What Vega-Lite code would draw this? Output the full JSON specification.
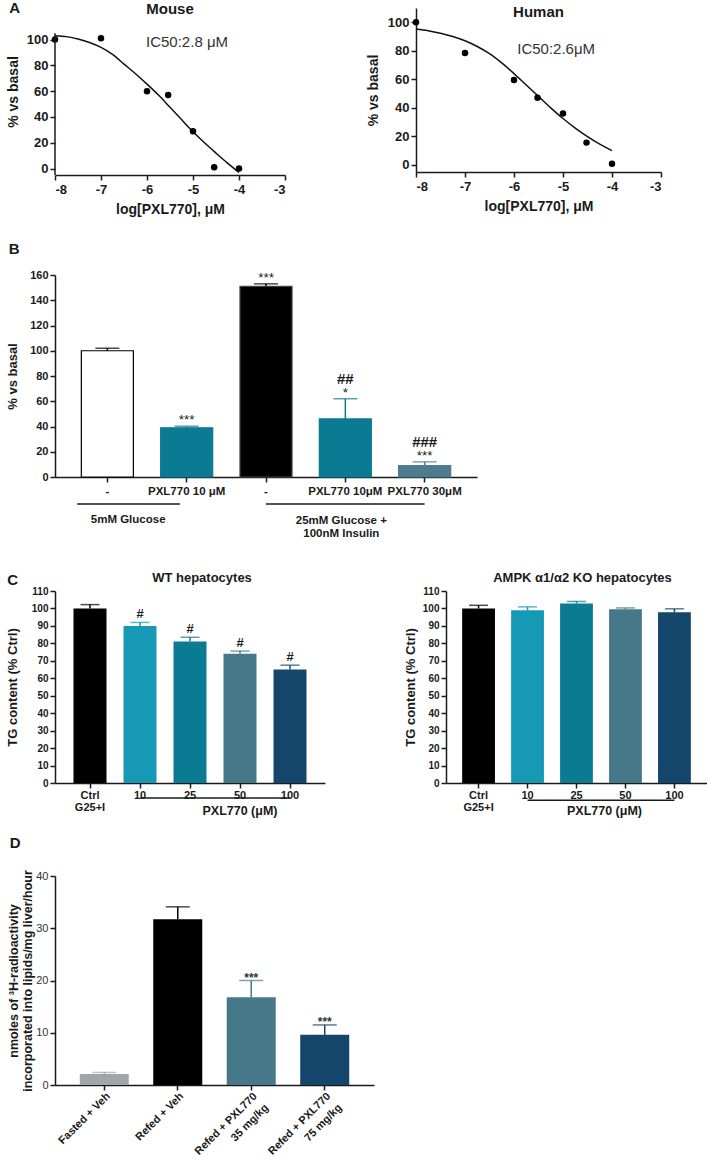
{
  "$schema": "https://vega.github.io/schema/vega-lite/v6.json",
  "background": "white",
  "padding": {"left": 6, "top": 1, "right": 0, "bottom": 0},
  "config": {
    "font": "Liberation Sans",
    "view": {"stroke": null},
    "axis": {
      "labelFont": "Liberation Sans", "titleFont": "Liberation Sans",
      "labelFontWeight": "bold", "titleFontWeight": "bold",
      "labelColor": "#1a1a1a", "titleColor": "#1a1a1a",
      "domainColor": "#1a1a1a", "tickColor": "#1a1a1a",
      "domainWidth": 1.5, "tickWidth": 1.5, "tickSize": 5,
      "grid": false, "labelPadding": 2, "labelOverlap": false
    },
    "title": {"font": "Liberation Sans", "fontWeight": "bold", "color": "#1a1a1a"},
    "text": {"font": "Liberation Sans"}
  },
  "resolve": {"scale": {"color": "independent", "fill": "independent", "stroke": "independent"}},
  "spacing": 32,
  "vconcat": [
    {
      "spacing": 25,
      "resolve": {"scale": {"color": "independent", "fill": "independent", "stroke": "independent"}},
      "vconcat": [
        {
          "title": {"text": "A", "fontSize": 15, "anchor": "start", "dx": 3, "offset": -14},
          "spacing": 80,
          "resolve": {"scale": {"color": "independent", "fill": "independent", "stroke": "independent"}},
          "hconcat": [
            {
              "width": 230, "height": 167,
              "title": {"text": "Mouse", "fontSize": 15, "anchor": "middle", "offset": -9},
              "layer": [
                {
                  "data": {"values": [
                    {"logc": -8, "pct": 103}, {"logc": -7.75, "pct": 102.3}, {"logc": -7.5, "pct": 100.5},
                    {"logc": -7.25, "pct": 97.8}, {"logc": -7, "pct": 94}, {"logc": -6.75, "pct": 88.5},
                    {"logc": -6.5, "pct": 81}, {"logc": -6.25, "pct": 73.5}, {"logc": -6, "pct": 65.5},
                    {"logc": -5.75, "pct": 57}, {"logc": -5.5, "pct": 47.5}, {"logc": -5.25, "pct": 38},
                    {"logc": -5, "pct": 28.5}, {"logc": -4.75, "pct": 20}, {"logc": -4.5, "pct": 12},
                    {"logc": -4.25, "pct": 4.2}, {"logc": -4, "pct": -3}
                  ]},
                  "mark": {"type": "line", "color": "#111111", "strokeWidth": 1.5, "interpolate": "monotone"},
                  "encoding": {
                    "x": {"field": "logc", "type": "quantitative",
                      "scale": {"domain": [-8, -3], "nice": false, "zero": false},
                      "axis": {"title": "log[PXL770], μM", "values": [-8, -7, -6, -5, -4, -3], "tickCount": 20, "labelExpr": "'' + datum.value",
                        "titleFontSize": 14, "labelFontSize": 13, "labelPadding": 3, "titlePadding": 6}},
                    "y": {"field": "pct", "type": "quantitative",
                      "scale": {"domain": [-5, 124.5], "nice": false, "zero": false},
                      "axis": {"title": "% vs basal", "values": [0, 20, 40, 60, 80, 100], "tickCount": 20, "domain": false, "labelOverlap": false,
                        "titleFontSize": 14, "labelFontSize": 13, "titlePadding": 6}}
                  }
                },
                {
                  "data": {"values": [
                    {"logc": -8, "pct": 100}, {"logc": -7, "pct": 101}, {"logc": -6, "pct": 60},
                    {"logc": -5.54, "pct": 57}, {"logc": -5, "pct": 29}, {"logc": -4.54, "pct": 1}, {"logc": -4, "pct": 0}
                  ]},
                  "mark": {"type": "circle", "size": 42, "color": "#000000", "opacity": 1},
                  "encoding": {
                    "x": {"field": "logc", "type": "quantitative"},
                    "y": {"field": "pct", "type": "quantitative"}
                  }
                },
                {
                  "data": {"values": [{"label": "IC50:2.8 μM", "logc": -5.13, "pct": 98}]},
                  "mark": {"type": "text", "fontSize": 15, "fontWeight": "normal", "color": "#333333"},
                  "encoding": {
                    "x": {"field": "logc", "type": "quantitative"},
                    "y": {"field": "pct", "type": "quantitative"},
                    "text": {"field": "label"}
                  }
                },
                {
                  "data": {"values": [{}]},
                  "mark": {"type": "rule", "color": "#1a1a1a", "strokeWidth": 1.5},
                  "encoding": {"x": {"datum": -8}, "y": {"datum": -5}, "y2": {"datum": 105}}
                }
              ]
            },
            {
              "width": 245, "height": 164,
              "title": {"text": "Human", "fontSize": 15, "anchor": "middle", "offset": -12},
              "layer": [
                {
                  "data": {"values": [
                    {"logc": -8, "pct": 95.3}, {"logc": -7.75, "pct": 94.1}, {"logc": -7.5, "pct": 92.3},
                    {"logc": -7.25, "pct": 90}, {"logc": -7, "pct": 87}, {"logc": -6.75, "pct": 83},
                    {"logc": -6.5, "pct": 78}, {"logc": -6.25, "pct": 71.5}, {"logc": -6, "pct": 64},
                    {"logc": -5.75, "pct": 56}, {"logc": -5.5, "pct": 48}, {"logc": -5.25, "pct": 40},
                    {"logc": -5, "pct": 32.5}, {"logc": -4.75, "pct": 25.8}, {"logc": -4.5, "pct": 19.8},
                    {"logc": -4.25, "pct": 14.5}, {"logc": -4, "pct": 10}
                  ]},
                  "mark": {"type": "line", "color": "#111111", "strokeWidth": 1.5, "interpolate": "monotone"},
                  "encoding": {
                    "x": {"field": "logc", "type": "quantitative",
                      "scale": {"domain": [-8, -3], "nice": false, "zero": false},
                      "axis": {"title": "log[PXL770], μM", "values": [-8, -7, -6, -5, -4, -3], "tickCount": 20, "labelExpr": "'' + datum.value",
                        "titleFontSize": 14, "labelFontSize": 13, "labelPadding": 3, "titlePadding": 6}},
                    "y": {"field": "pct", "type": "quantitative",
                      "scale": {"domain": [-5, 110], "nice": false, "zero": false},
                      "axis": {"title": "% vs basal", "values": [0, 20, 40, 60, 80, 100], "tickCount": 20, "labelOverlap": false,
                        "titleFontSize": 14, "labelFontSize": 13, "titlePadding": 7}}
                  }
                },
                {
                  "data": {"values": [
                    {"logc": -8, "pct": 100}, {"logc": -7, "pct": 78.5}, {"logc": -6, "pct": 59.5},
                    {"logc": -5.52, "pct": 47}, {"logc": -5, "pct": 36}, {"logc": -4.52, "pct": 15.6}, {"logc": -4, "pct": 0.8}
                  ]},
                  "mark": {"type": "circle", "size": 42, "color": "#000000", "opacity": 1},
                  "encoding": {
                    "x": {"field": "logc", "type": "quantitative"},
                    "y": {"field": "pct", "type": "quantitative"}
                  }
                },
                {
                  "data": {"values": [{"label": "IC50:2.6μM", "logc": -5.14, "pct": 81}]},
                  "mark": {"type": "text", "fontSize": 15, "fontWeight": "normal", "color": "#333333"},
                  "encoding": {
                    "x": {"field": "logc", "type": "quantitative"},
                    "y": {"field": "pct", "type": "quantitative"},
                    "text": {"field": "label"}
                  }
                }
              ]
            }
          ]
        },
        {
          "title": {"text": "B", "fontSize": 15, "anchor": "start", "dx": 2, "offset": 0},
          "resolve": {"scale": {"color": "independent", "fill": "independent", "stroke": "independent"}},
          "hconcat": [
            {
              "width": 422, "height": 202,
              "layer": [
                {
                  "data": {"values": [
                    {"key": "1|-", "value": 100, "err": 102, "star": "", "hash": ""},
                    {"key": "2|PXL770 10 μM", "value": 39, "err": 40.2, "star": "***", "hash": ""},
                    {"key": "3|-", "value": 151, "err": 153, "star": "***", "hash": ""},
                    {"key": "4|PXL770 10μM", "value": 46, "err": 62, "star": "*", "hash": "##"},
                    {"key": "5|PXL770 30μM", "value": 9, "err": 12, "star": "***", "hash": "###"}
                  ]},
                  "layer": [
                    {
                      "mark": {"type": "bar", "strokeWidth": 1.2},
                      "encoding": {
                        "x": {"field": "key", "type": "nominal",
                          "scale": {"domain": ["1|-", "2|PXL770 10 μM", "3|-", "4|PXL770 10μM", "5|PXL770 30μM"], "paddingInner": 0.344, "paddingOuter": 0.332},
                          "axis": {"title": null, "labelAngle": 0, "labelExpr": "split(datum.value, '|')[1]", "labelFontSize": 11.5, "labelPadding": 3}},
                        "y": {"field": "value", "type": "quantitative",
                          "scale": {"domain": [0, 160], "nice": false},
                          "axis": {"title": "% vs basal", "values": [0, 20, 40, 60, 80, 100, 120, 140, 160], "tickCount": 20, "labelOverlap": false, "titleFontSize": 13, "labelFontSize": 11, "titlePadding": 10}},
                        "fill": {"field": "key", "type": "nominal", "legend": null,
                          "scale": {"domain": ["1|-", "2|PXL770 10 μM", "3|-", "4|PXL770 10μM", "5|PXL770 30μM"], "range": ["#ffffff", "#0b7b93", "#000000", "#0b7b93", "#4d7c8f"]}},
                        "stroke": {"field": "key", "type": "nominal", "legend": null,
                          "scale": {"domain": ["1|-", "2|PXL770 10 μM", "3|-", "4|PXL770 10μM", "5|PXL770 30μM"], "range": ["#000000", "#0b7b93", "#444444", "#0b7b93", "#4d7c8f"]}}
                      }
                    },
                    {
                      "mark": {"type": "rule", "strokeWidth": 1.5},
                      "encoding": {
                        "x": {"field": "key", "type": "nominal"},
                        "y": {"field": "value", "type": "quantitative"},
                        "y2": {"field": "err"},
                        "color": {"field": "key", "type": "nominal", "legend": null,
                          "scale": {"domain": ["1|-", "2|PXL770 10 μM", "3|-", "4|PXL770 10μM", "5|PXL770 30μM"], "range": ["#000000", "#0b7b93", "#000000", "#0b7b93", "#4d7c8f"]}}
                      }
                    },
                    {
                      "mark": {"type": "tick", "orient": "horizontal", "size": 24, "thickness": 1.5},
                      "encoding": {
                        "x": {"field": "key", "type": "nominal"},
                        "y": {"field": "err", "type": "quantitative"},
                        "color": {"field": "key", "type": "nominal", "legend": null}
                      }
                    },
                    {
                      "mark": {"type": "text", "fontSize": 13.5, "baseline": "alphabetic", "dy": -2, "color": "#1a1a1a"},
                      "encoding": {
                        "x": {"field": "key", "type": "nominal"},
                        "y": {"field": "err", "type": "quantitative"},
                        "text": {"field": "star"}
                      }
                    },
                    {
                      "mark": {"type": "text", "fontSize": 15, "fontWeight": "bold", "baseline": "alphabetic", "dy": -15, "color": "#1a1a1a"},
                      "encoding": {
                        "x": {"field": "key", "type": "nominal"},
                        "y": {"field": "err", "type": "quantitative"},
                        "text": {"field": "hash"}
                      }
                    }
                  ]
                },
                {
                  "data": {"values": [{"from": "1|-", "to": "2|PXL770 10 μM"}]},
                  "mark": {"type": "rule", "strokeWidth": 1.5, "color": "#1a1a1a"},
                  "encoding": {
                    "x": {"field": "from", "type": "nominal", "bandPosition": -0.08},
                    "x2": {"field": "to", "bandPosition": 0.37},
                    "y": {"datum": -21.4}
                  }
                },
                {
                  "data": {"values": [{"from": "3|-", "to": "5|PXL770 30μM"}]},
                  "mark": {"type": "rule", "strokeWidth": 1.5, "color": "#1a1a1a"},
                  "encoding": {
                    "x": {"field": "from", "type": "nominal"},
                    "x2": {"field": "to"},
                    "y": {"datum": -21.4}
                  }
                },
                {
                  "data": {"values": [{"at": "1|-", "label": "5mM Glucose"}]},
                  "mark": {"type": "text", "fontSize": 11.5, "fontWeight": "bold", "baseline": "middle", "color": "#1a1a1a"},
                  "encoding": {
                    "x": {"field": "at", "type": "nominal", "bandPosition": 0.9},
                    "y": {"datum": -34},
                    "text": {"field": "label"}
                  }
                },
                {
                  "data": {"values": [{"at": "4|PXL770 10μM", "label": "25mM Glucose +\n100nM Insulin"}]},
                  "mark": {"type": "text", "fontSize": 11.5, "fontWeight": "bold", "baseline": "middle", "lineBreak": "\n", "lineHeight": 13, "dx": -4, "color": "#1a1a1a"},
                  "encoding": {
                    "x": {"field": "at", "type": "nominal"},
                    "y": {"datum": -35.2},
                    "text": {"field": "label"}
                  }
                }
              ]
            }
          ]
        }
      ]
    },
    {
      "spacing": 17,
      "resolve": {"scale": {"color": "independent", "fill": "independent", "stroke": "independent"}},
      "vconcat": [
        {
          "title": {"text": "C", "fontSize": 15, "anchor": "start", "dx": 1, "offset": -16},
          "spacing": 79,
          "resolve": {"scale": {"color": "independent", "fill": "independent", "stroke": "independent"}},
          "hconcat": [
            {
              "width": 270, "height": 192,
              "title": {"text": "WT hepatocytes", "fontSize": 13, "anchor": "middle", "dx": 12, "offset": 1},
              "layer": [
                {
                  "data": {"values": [
                    {"dose": "Ctrl", "value": 100, "err": 102.2, "sig": ""},
                    {"dose": "10", "value": 90, "err": 92, "sig": "#"},
                    {"dose": "25", "value": 81, "err": 83.5, "sig": "#"},
                    {"dose": "50", "value": 74, "err": 75.6, "sig": "#"},
                    {"dose": "100", "value": 65, "err": 67.5, "sig": "#"}
                  ]},
                  "layer": [
                    {
                      "mark": {"type": "bar"},
                      "encoding": {
                        "x": {"field": "dose", "type": "nominal",
                          "scale": {"domain": ["Ctrl", "10", "25", "50", "100"], "paddingInner": 0.34, "paddingOuter": 0.37},
                          "axis": {"title": null, "labelAngle": 0, "labelFontSize": 11, "labelPadding": 1, "labelLineHeight": 12,
                            "labelExpr": "datum.value == 'Ctrl' ? ['Ctrl', 'G25+I'] : datum.value"}},
                        "y": {"field": "value", "type": "quantitative",
                          "scale": {"domain": [0, 110], "nice": false},
                          "axis": {"title": "TG content (% Ctrl)", "values": [0, 10, 20, 30, 40, 50, 60, 70, 80, 90, 100, 110], "tickCount": 20, "labelOverlap": false, "titleFontSize": 13, "labelFontSize": 10, "titlePadding": 12}},
                        "color": {"field": "dose", "type": "nominal", "legend": null,
                          "scale": {"domain": ["Ctrl", "10", "25", "50", "100"], "range": ["#000000", "#1699b5", "#0b7b93", "#467889", "#14466b"]}}
                      }
                    },
                    {
                      "mark": {"type": "rule", "strokeWidth": 1.5},
                      "encoding": {
                        "x": {"field": "dose", "type": "nominal"},
                        "y": {"field": "value", "type": "quantitative"},
                        "y2": {"field": "err"},
                        "color": {"field": "dose", "type": "nominal", "legend": null}
                      }
                    },
                    {
                      "mark": {"type": "tick", "orient": "horizontal", "size": 19, "thickness": 1.5},
                      "encoding": {
                        "x": {"field": "dose", "type": "nominal"},
                        "y": {"field": "err", "type": "quantitative"},
                        "color": {"field": "dose", "type": "nominal", "legend": null}
                      }
                    },
                    {
                      "mark": {"type": "text", "fontSize": 13, "fontWeight": "bold", "baseline": "alphabetic", "dy": -4, "color": "#1a1a1a"},
                      "encoding": {
                        "x": {"field": "dose", "type": "nominal"},
                        "y": {"field": "err", "type": "quantitative"},
                        "text": {"field": "sig"}
                      }
                    }
                  ]
                },
                {
                  "data": {"values": [{"from": "10", "to": "100"}]},
                  "mark": {"type": "rule", "strokeWidth": 1.5, "color": "#1a1a1a"},
                  "encoding": {
                    "x": {"field": "from", "type": "nominal"},
                    "x2": {"field": "to"},
                    "y": {"datum": -8.6}
                  }
                },
                {
                  "data": {"values": [{"at": "50", "label": "PXL770 (μM)"}]},
                  "mark": {"type": "text", "fontSize": 12.5, "fontWeight": "bold", "baseline": "middle", "color": "#1a1a1a"},
                  "encoding": {
                    "x": {"field": "at", "type": "nominal"},
                    "y": {"datum": -16},
                    "text": {"field": "label"}
                  }
                }
              ]
            },
            {
              "width": 261, "height": 192,
              "title": {"text": "AMPK α1/α2 KO hepatocytes", "fontSize": 13, "anchor": "middle", "dx": 6, "offset": 1},
              "layer": [
                {
                  "data": {"values": [
                    {"dose": "Ctrl", "value": 100, "err": 101.8},
                    {"dose": "10", "value": 98.9, "err": 100.9},
                    {"dose": "25", "value": 102.9, "err": 104},
                    {"dose": "50", "value": 99.6, "err": 100.3},
                    {"dose": "100", "value": 97.8, "err": 99.8}
                  ]},
                  "layer": [
                    {
                      "mark": {"type": "bar"},
                      "encoding": {
                        "x": {"field": "dose", "type": "nominal",
                          "scale": {"domain": ["Ctrl", "10", "25", "50", "100"], "paddingInner": 0.33, "paddingOuter": 0.33},
                          "axis": {"title": null, "labelAngle": 0, "labelFontSize": 11, "labelPadding": 1, "labelLineHeight": 12,
                            "labelExpr": "datum.value == 'Ctrl' ? ['Ctrl', 'G25+I'] : datum.value"}},
                        "y": {"field": "value", "type": "quantitative",
                          "scale": {"domain": [0, 110], "nice": false},
                          "axis": {"title": "TG content (% Ctrl)", "values": [0, 10, 20, 30, 40, 50, 60, 70, 80, 90, 100, 110], "tickCount": 20, "labelOverlap": false, "titleFontSize": 13, "labelFontSize": 10, "titlePadding": 5}},
                        "color": {"field": "dose", "type": "nominal", "legend": null,
                          "scale": {"domain": ["Ctrl", "10", "25", "50", "100"], "range": ["#000000", "#1699b5", "#0b7b93", "#467889", "#14466b"]}}
                      }
                    },
                    {
                      "mark": {"type": "rule", "strokeWidth": 1.5},
                      "encoding": {
                        "x": {"field": "dose", "type": "nominal"},
                        "y": {"field": "value", "type": "quantitative"},
                        "y2": {"field": "err"},
                        "color": {"field": "dose", "type": "nominal", "legend": null}
                      }
                    },
                    {
                      "mark": {"type": "tick", "orient": "horizontal", "size": 19, "thickness": 1.5},
                      "encoding": {
                        "x": {"field": "dose", "type": "nominal"},
                        "y": {"field": "err", "type": "quantitative"},
                        "color": {"field": "dose", "type": "nominal", "legend": null}
                      }
                    }
                  ]
                },
                {
                  "data": {"values": [{"from": "10", "to": "100"}]},
                  "mark": {"type": "rule", "strokeWidth": 1.5, "color": "#1a1a1a"},
                  "encoding": {
                    "x": {"field": "from", "type": "nominal"},
                    "x2": {"field": "to"},
                    "y": {"datum": -9.9}
                  }
                },
                {
                  "data": {"values": [{"at": "50", "label": "PXL770 (μM)"}]},
                  "mark": {"type": "text", "fontSize": 12.5, "fontWeight": "bold", "baseline": "middle", "dx": -21, "color": "#1a1a1a"},
                  "encoding": {
                    "x": {"field": "at", "type": "nominal"},
                    "y": {"datum": -16},
                    "text": {"field": "label"}
                  }
                }
              ]
            }
          ]
        },
        {
          "title": {"text": "D", "fontSize": 15, "anchor": "start", "dx": 2, "offset": 19},
          "resolve": {"scale": {"color": "independent", "fill": "independent", "stroke": "independent"}},
          "hconcat": [
            {
              "width": 319, "height": 209,
              "data": {"values": [
                {"grp": "Fasted + Veh", "value": 2.1, "err": 2.4, "sig": ""},
                {"grp": "Refed + Veh", "value": 31.7, "err": 34.1, "sig": ""},
                {"grp": "Refed + PXL770|35 mg/kg", "value": 16.8, "err": 20, "sig": "***"},
                {"grp": "Refed + PXL770|75 mg/kg", "value": 9.6, "err": 11.5, "sig": "***"}
              ]},
              "layer": [
                {
                  "mark": {"type": "bar"},
                  "encoding": {
                    "x": {"field": "grp", "type": "nominal",
                      "scale": {"domain": ["Fasted + Veh", "Refed + Veh", "Refed + PXL770|35 mg/kg", "Refed + PXL770|75 mg/kg"], "paddingInner": 0.333, "paddingOuter": 0.337},
                      "axis": {"title": null, "labelAngle": -45, "labelAlign": "right", "labelBaseline": "top", "labelExpr": "split(datum.value, '|')",
                        "labelFontSize": 11, "labelLineHeight": 16, "labelPadding": 0}},
                    "y": {"field": "value", "type": "quantitative",
                      "scale": {"domain": [0, 40], "nice": false},
                      "axis": {"title": ["nmoles of ³H-radioactivity", "incorporated into lipids/mg liver/hour"], "values": [0, 10, 20, 30, 40], "tickCount": 20, "labelOverlap": false,
                        "titleFontSize": 12.5, "titleLineHeight": 14, "labelFontSize": 11, "labelFontWeight": "normal", "labelColor": "#333333", "titlePadding": 1}},
                    "color": {"field": "grp", "type": "nominal", "legend": null,
                      "scale": {"domain": ["Fasted + Veh", "Refed + Veh", "Refed + PXL770|35 mg/kg", "Refed + PXL770|75 mg/kg"], "range": ["#a3a3aa", "#000000", "#467889", "#14466b"]}}
                  }
                },
                {
                  "mark": {"type": "rule", "strokeWidth": 1.5},
                  "encoding": {
                    "x": {"field": "grp", "type": "nominal"},
                    "y": {"field": "value", "type": "quantitative"},
                    "y2": {"field": "err"},
                    "color": {"field": "grp", "type": "nominal", "legend": null}
                  }
                },
                {
                  "mark": {"type": "tick", "orient": "horizontal", "size": 24, "thickness": 1.5},
                  "encoding": {
                    "x": {"field": "grp", "type": "nominal"},
                    "y": {"field": "err", "type": "quantitative"},
                    "color": {"field": "grp", "type": "nominal", "legend": null}
                  }
                },
                {
                  "mark": {"type": "text", "fontSize": 12, "fontWeight": "bold", "baseline": "alphabetic", "dy": 1, "color": "#333333"},
                  "encoding": {
                    "x": {"field": "grp", "type": "nominal"},
                    "y": {"field": "err", "type": "quantitative"},
                    "text": {"field": "sig"}
                  }
                }
              ]
            }
          ]
        }
      ]
    }
  ]
}
